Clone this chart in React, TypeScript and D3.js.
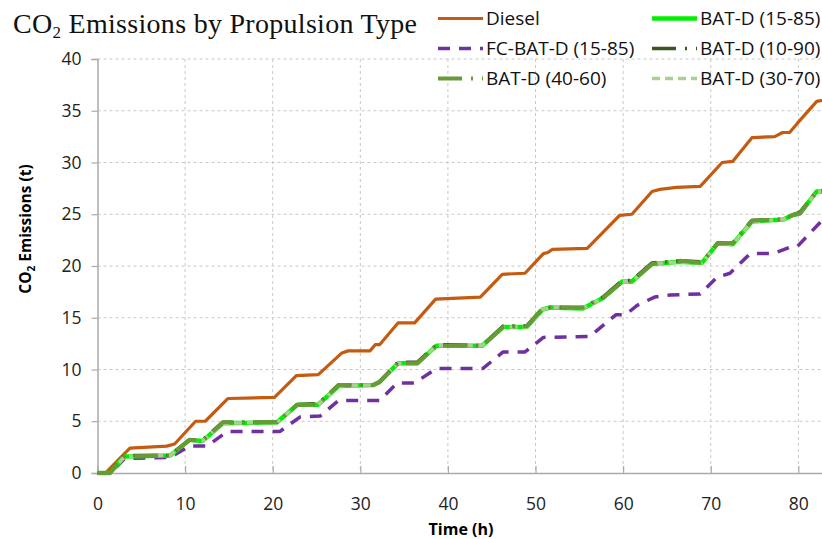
import React, { useEffect, useRef } from 'react';
import * as d3 from 'd3';

// [time (h), CO2 (t)] vertices
const diesel: [number, number][] = [
  [0, 0], [0.9, 0], [3.7, 2.4], [7.9, 2.6], [8.8, 2.8], [11.2, 5.0], [12.3, 5.0], [14.9, 7.2],
  [20.2, 7.3], [22.7, 9.4], [25.2, 9.5], [27.9, 11.6], [28.6, 11.8], [31.1, 11.8], [31.7, 12.4],
  [32.2, 12.4], [34.3, 14.5], [36.2, 14.5], [38.6, 16.8], [43.7, 17.0], [46.2, 19.2], [48.8, 19.3],
  [50.9, 21.2], [51.4, 21.3], [51.9, 21.6], [55.9, 21.7], [59.6, 24.9], [61.0, 25.0], [63.3, 27.2],
  [64.2, 27.4], [66.1, 27.6], [68.8, 27.7], [71.3, 30.0], [72.5, 30.1], [74.7, 32.4], [77.3, 32.5],
  [78.2, 32.9], [79.0, 32.9], [79.9, 33.8], [82.1, 35.9], [82.7, 36.0],
];

const fcBat1585: [number, number][] = [
  [0, 0], [1.5, 0], [3.1, 1.4], [8.3, 1.5], [10.5, 2.6], [12.5, 2.6], [14.8, 4.0], [20.8, 4.0],
  [23.1, 5.4], [25.4, 5.5], [27.5, 7.0], [32.2, 7.0], [34.2, 8.7], [36.2, 8.7], [38.7, 10.1],
  [44.0, 10.1], [46.3, 11.7], [48.8, 11.7], [50.9, 13.1], [56.2, 13.2], [59.2, 15.3], [60.3, 15.3],
  [61.6, 16.2], [63.6, 17.0], [65.4, 17.2], [68.8, 17.3], [70.7, 18.9], [72.2, 19.3], [74.5, 21.2],
  [77.1, 21.2], [78.1, 21.5], [79.0, 21.8], [79.9, 21.9], [82.7, 24.4],
];

const bat1585: [number, number][] = [
  [0, 0], [1.4, 0], [3.1, 1.6], [8.3, 1.7], [10.5, 3.2], [12.0, 3.1], [14.3, 4.8], [20.5, 4.9],
  [22.8, 6.6], [25.2, 6.6], [27.5, 8.4], [31.5, 8.5], [32.2, 8.8], [34.3, 10.6], [36.5, 10.6],
  [38.7, 12.3], [43.9, 12.3], [46.3, 14.1], [49.0, 14.1], [50.8, 15.8], [51.7, 16.0], [55.4, 15.9],
  [57.7, 16.9], [59.9, 18.5], [61.0, 18.5], [63.3, 20.2], [66.5, 20.4], [69.0, 20.3], [70.8, 22.2],
  [72.5, 22.1], [74.7, 24.3], [78.3, 24.5], [79.3, 24.9], [80.2, 25.1], [82.1, 27.2], [82.7, 27.2],
];

const bat1090: [number, number][] = [
  [0, 0], [1.4, 0], [3.1, 1.7], [8.3, 1.7], [10.5, 3.2], [12.0, 3.2], [14.3, 4.9], [20.5, 4.9],
  [22.8, 6.6], [25.2, 6.7], [27.5, 8.5], [31.5, 8.5], [32.2, 8.8], [34.3, 10.7], [36.5, 10.7],
  [38.7, 12.4], [43.9, 12.3], [46.3, 14.2], [49.0, 14.2], [50.8, 15.9], [51.7, 16.0], [55.4, 16.0],
  [57.7, 17.0], [59.9, 18.6], [61.0, 18.6], [63.3, 20.3], [66.5, 20.5], [69.0, 20.4], [70.8, 22.2],
  [72.5, 22.2], [74.7, 24.4], [78.3, 24.5], [79.3, 24.9], [80.2, 25.2], [82.1, 27.2], [82.7, 27.3],
];

const bat4060: [number, number][] = [
  [0, 0], [1.4, 0], [3.1, 1.6], [8.3, 1.7], [10.5, 3.2], [12.0, 3.1], [14.3, 4.9], [20.5, 4.9],
  [22.8, 6.6], [25.2, 6.6], [27.5, 8.5], [31.5, 8.5], [32.2, 8.8], [34.3, 10.6], [36.5, 10.6],
  [38.7, 12.3], [43.9, 12.3], [46.3, 14.1], [49.0, 14.2], [50.8, 15.9], [51.7, 16.0], [55.4, 16.0],
  [57.7, 16.9], [59.9, 18.5], [61.0, 18.5], [63.3, 20.2], [66.5, 20.5], [69.0, 20.3], [70.8, 22.2],
  [72.5, 22.2], [74.7, 24.4], [78.3, 24.5], [79.3, 24.9], [80.2, 25.1], [82.1, 27.2], [82.7, 27.2],
];

const bat3070: [number, number][] = [
  [0, 0], [1.4, 0], [3.1, 1.6], [8.3, 1.7], [10.5, 3.2], [12.0, 3.1], [14.3, 4.8], [20.5, 4.9],
  [22.8, 6.6], [25.2, 6.6], [27.5, 8.4], [31.5, 8.5], [32.2, 8.8], [34.3, 10.6], [36.5, 10.6],
  [38.7, 12.3], [43.9, 12.3], [46.3, 14.1], [49.0, 14.1], [50.8, 15.8], [51.7, 16.0], [55.4, 15.9],
  [57.7, 16.9], [59.9, 18.5], [61.0, 18.5], [63.3, 20.2], [66.5, 20.4], [69.0, 20.3], [70.8, 22.2],
  [72.5, 22.1], [74.7, 24.3], [78.3, 24.5], [79.3, 24.9], [80.2, 25.1], [82.1, 27.2], [82.7, 27.2],
];

const xTicks = [0, 10, 20, 30, 40, 50, 60, 70, 80];
const yTicks = [0, 5, 10, 15, 20, 25, 30, 35, 40];

// draw order matters: dark greens sit on top of the bright green
const series = [
  { name: 'Diesel', data: diesel, color: '#C55A11', width: 3.2, dash: null, col: 0, row: 0 },
  { name: 'FC-BAT-D (15-85)', data: fcBat1585, color: '#7030A0', width: 3.5, dash: '12,9', col: 0, row: 1 },
  { name: 'BAT-D (15-85)', data: bat1585, color: '#00F000', width: 4.5, dash: null, col: 1, row: 0 },
  { name: 'BAT-D (30-70)', data: bat3070, color: '#A9D18E', width: 3.5, dash: '8,5', col: 1, row: 2 },
  { name: 'BAT-D (10-90)', data: bat1090, color: '#375623', width: 3.5, dash: '24,9,2,9', col: 1, row: 1 },
  { name: 'BAT-D (40-60)', data: bat4060, color: '#689A38', width: 4, dash: '24,9,2,9', col: 0, row: 2 },
];

const W = 822;
const H = 539;
const FONT = '"Open Sans", Calibri, sans-serif';

export default function App() {
  const svgRef = useRef<SVGSVGElement>(null);

  useEffect(() => {
    const svg = d3.select(svgRef.current);
    svg.selectAll('*').remove();

    const x = d3.scaleLinear().domain([0, 82.7]).range([97.5, 822]);
    const y = d3.scaleLinear().domain([0, 40]).range([473, 59]);

    // grid
    const grid = svg.append('g');
    grid.selectAll('line.gy')
      .data(yTicks.filter(d => d > 0))
      .enter().append('line')
      .attr('x1', x(0)).attr('x2', W)
      .attr('y1', d => y(d)).attr('y2', d => y(d))
      .attr('stroke', '#c8c8c8').attr('stroke-width', 1).attr('stroke-dasharray', '3,3');
    grid.selectAll('line.gx')
      .data(xTicks.filter(d => d > 0))
      .enter().append('line')
      .attr('x1', d => x(d)).attr('x2', d => x(d))
      .attr('y1', y(40)).attr('y2', y(0))
      .attr('stroke', '#c8c8c8').attr('stroke-width', 1).attr('stroke-dasharray', '3,3');

    // axes
    const yAxis = svg.append('g')
      .attr('transform', `translate(${x(0)},0)`)
      .call(d3.axisLeft(y).tickValues(yTicks).tickSize(6).tickPadding(10).tickFormat(d3.format('d')));
    const xAxis = svg.append('g')
      .attr('transform', `translate(0,${y(0)})`)
      .call(d3.axisBottom(x).tickValues(xTicks).tickSize(-7).tickPadding(25).tickFormat(d3.format('d')));
    xAxis.select('.domain').attr('d', `M${x(0)},0.5H${W}`);
    [xAxis, yAxis].forEach(a => {
      a.select('.domain').attr('stroke', '#aaaaaa').attr('stroke-width', 1.5);
      a.selectAll('.tick line').attr('stroke', '#aaaaaa').attr('stroke-width', 1.2);
      a.selectAll('.tick text')
        .attr('font-family', FONT).attr('font-size', 17.5).attr('fill', '#222');
    });

    // lines
    const line = d3.line<[number, number]>().x(d => x(d[0])).y(d => y(d[1]));
    svg.append('g').selectAll('path')
      .data(series)
      .enter().append('path')
      .attr('d', d => line(d.data))
      .attr('fill', 'none')
      .attr('stroke', d => d.color)
      .attr('stroke-width', d => d.width)
      .attr('stroke-dasharray', d => d.dash)
      .attr('stroke-linejoin', 'round');

    // legend
    const lg = svg.append('g');
    const colX = [438, 652];
    const rowY = [18.5, 48.5, 78.5];
    series.forEach(s => {
      const lx = colX[s.col];
      const ly = rowY[s.row];
      lg.append('line')
        .attr('x1', lx).attr('x2', lx + 45)
        .attr('y1', ly).attr('y2', ly)
        .attr('stroke', s.color)
        .attr('stroke-width', s.width)
        .attr('stroke-dasharray', s.dash);
      lg.append('text')
        .attr('x', lx + 48).attr('y', ly + 6.8)
        .attr('font-family', FONT).attr('font-size', 19).attr('fill', '#111')
        .text(s.name);
    });

    // axis titles
    svg.append('text')
      .attr('x', 461).attr('y', 535)
      .attr('text-anchor', 'middle')
      .attr('font-family', FONT).attr('font-size', 16).attr('font-weight', 'bold')
      .text('Time (h)');

    const yt = svg.append('text')
      .attr('transform', 'translate(31,229) rotate(-90)')
      .attr('text-anchor', 'middle')
      .attr('font-family', FONT).attr('font-size', 15.5).attr('font-weight', 'bold');
    yt.append('tspan').text('CO');
    yt.append('tspan').attr('font-size', 10).attr('dy', 4).text('2');
    yt.append('tspan').attr('dy', -4).text(' Emissions (t)');

    // title
    const tt = svg.append('text')
      .attr('x', 13).attr('y', 33)
      .attr('font-family', '"Liberation Serif", serif').attr('font-size', 28).attr('fill', '#111')
      .attr('textLength', 404).attr('lengthAdjust', 'spacing');
    tt.append('tspan').text('CO');
    tt.append('tspan').attr('font-size', 17).attr('dy', 5).text('2');
    tt.append('tspan').attr('dy', -5).text(' Emissions by Propulsion Type');
  }, []);

  return (
    <svg
      ref={svgRef}
      width={W}
      height={H}
      style={{ position: 'absolute', left: 0, top: 0, background: '#fff' }}
    />
  );
}
